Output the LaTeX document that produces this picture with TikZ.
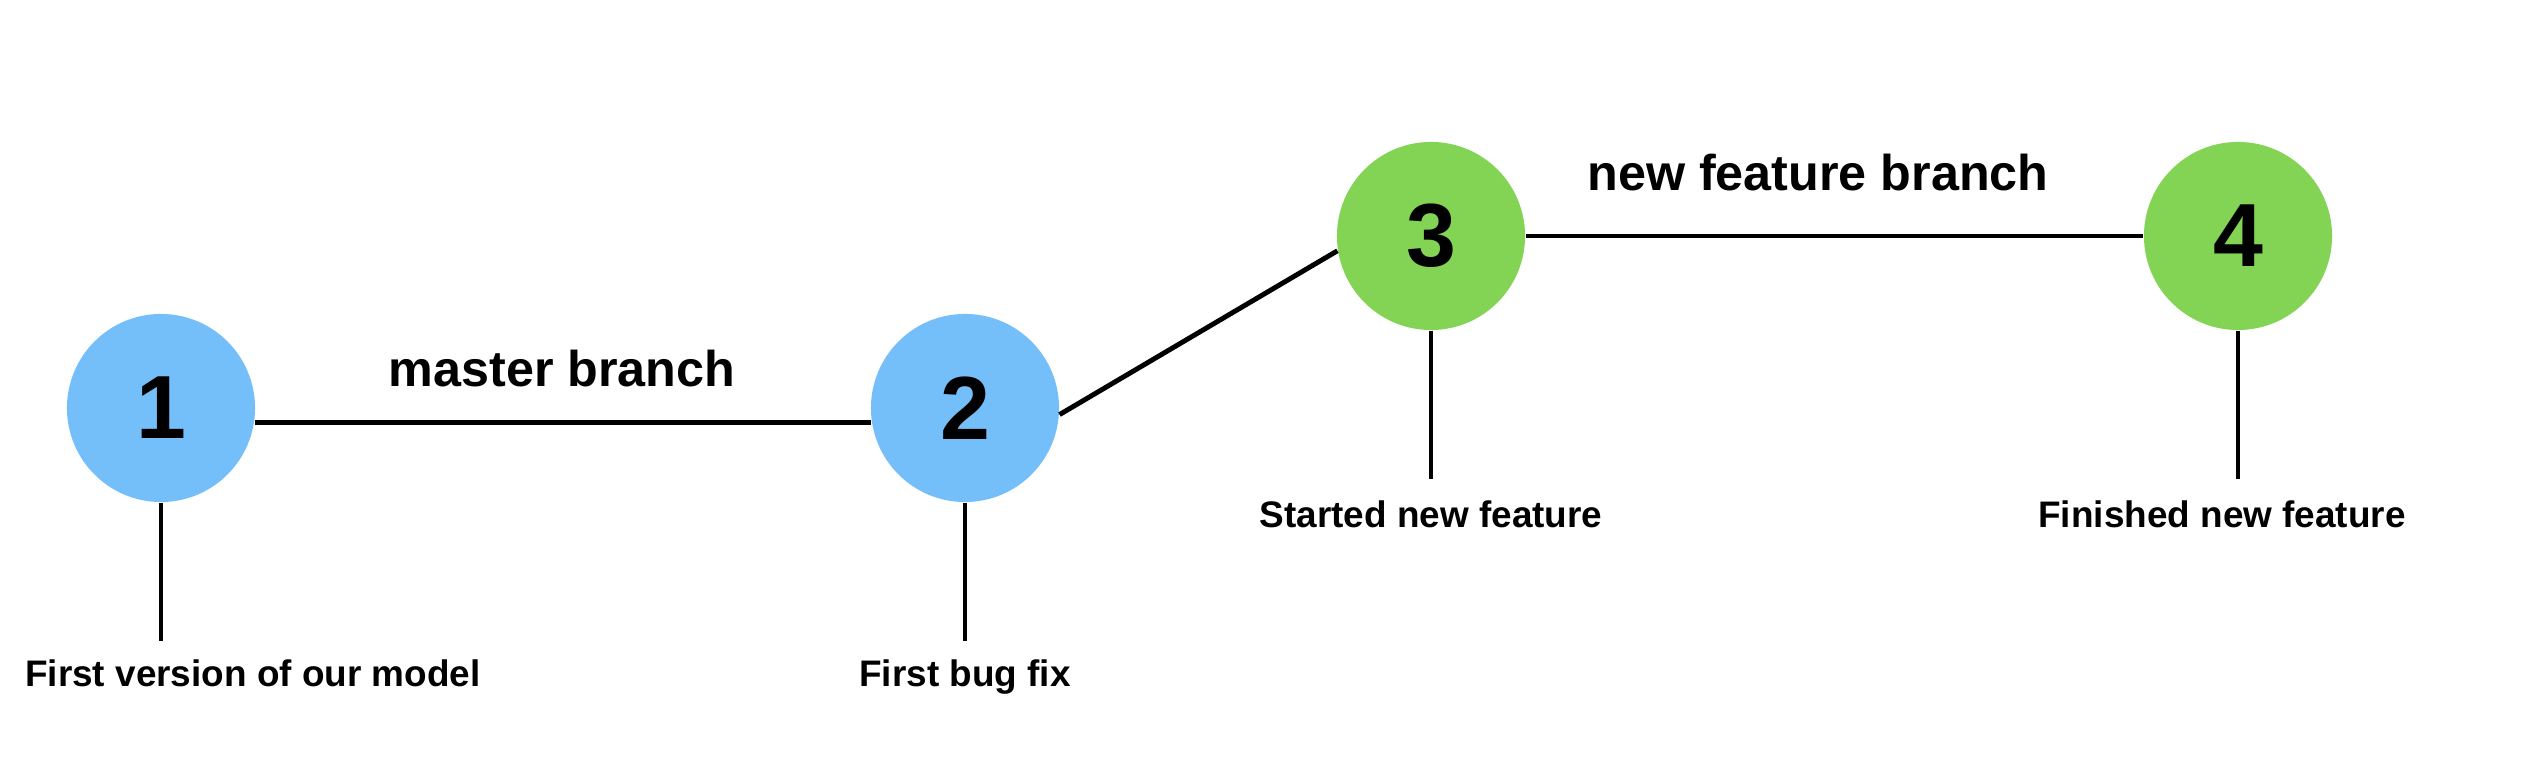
\documentclass[tikz,border=0pt]{standalone}
\usepackage{fontspec}
\setmainfont{Liberation Sans}
\usetikzlibrary{positioning}
\definecolor{masterblue}{RGB}{116,191,249}
\definecolor{featuregreen}{RGB}{131,211,84}
\tikzset{line/.style={draw, line width=1.4pt}}

\begin{document}
\begin{tikzpicture}[x=0.01cm, y=-0.01cm]
\tikzstyle{commit} = [circle, inner sep=0pt, minimum size=1.88cm, font=\fontsize{25.5}{28}\selectfont\bfseries]
\tikzstyle{branch} = [anchor=base, font=\fontsize{14.3}{17}\selectfont\bfseries]
\tikzstyle{caption} = [anchor=base, inner sep=0pt, font=\fontsize{10.5}{13}\selectfont\bfseries]
\tikzstyle{tick} = [draw, line width=1.1pt]

\useasboundingbox (0,0) rectangle (2532,762);

\node [commit, fill=masterblue](c1) at (161,408){1};
\node [commit, fill=masterblue](c2) at (965,408){2};
\node [commit, fill=featuregreen](c3) at (1431,236){3};
\node [commit, fill=featuregreen](c4) at (2238,236){4};

\node [branch](master) at (562,387){master branch};
\node [branch](feature) at (1818,191){new feature branch};

\coordinate (t1) at (161,641);
\coordinate (t2) at (965,641);
\coordinate (t3) at (1431,479);
\coordinate (t4) at (2238,479);

\node [caption](cap1) at (253,687){First version of our model};
\node [caption](cap2) at (965,687){First bug fix};
\node [caption](cap3) at (1431,528){Started new feature};
\node [caption](cap4) at (2222,528){Finished new feature};

\path [line] (c1.-9) -- (c2.189);
\path [line] (c2.-4) -- (c3.189);
\path [line] (c3.east) -- (c4.west);

\path [tick] (c1.south) -- (t1);
\path [tick] (c2.south) -- (t2);
\path [tick] (c3.south) -- (t3);
\path [tick] (c4.south) -- (t4);

\end{tikzpicture}
\end{document}
